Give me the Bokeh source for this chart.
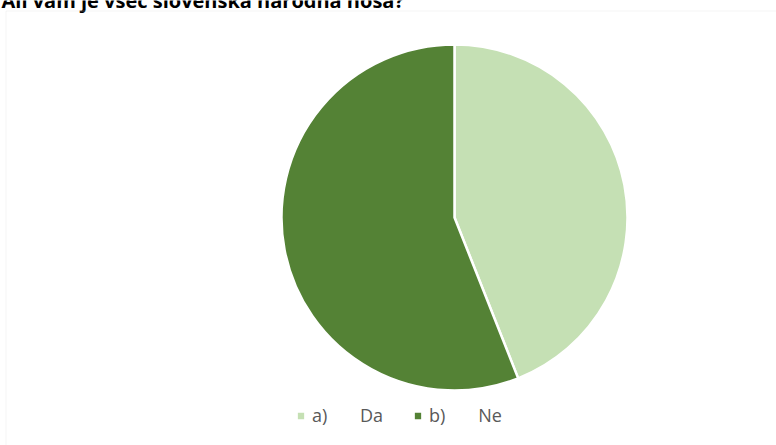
import numpy as np
from bokeh.plotting import figure
from bokeh.models import Range1d, Legend, LegendItem, BoxAnnotation, ColumnDataSource
from bokeh.core.properties import value
from bokeh.embed import file_html
from bokeh.resources import INLINE

title = "Ali vam je všeč slovenska narodna noša?"
categories = ["a)" + "\u00a0" * 7 + "Da", "b)" + "\u00a0" * 7 + "Ne"]
counts = [11, 14]
colors = ["#C5E0B4", "#548235"]

W, H = 776, 445
cx, cy, R = 454, 217, 173

vals = np.array(counts, dtype=float)
frac = vals / vals.sum()
cum = np.concatenate([[0], np.cumsum(frac)])
start = np.pi / 2 - 2 * np.pi * cum[:-1]
end = np.pi / 2 - 2 * np.pi * cum[1:]

src = ColumnDataSource(dict(cat=categories, start=start, end=end, color=colors))

p = figure(width=W, height=H, output_backend="svg", toolbar_location=None,
           x_range=Range1d(-cx, W - cx), y_range=Range1d(-(H - cy), cy),
           min_border=0, outline_line_color=None)
p.axis.visible = False
p.grid.visible = False
p.background_fill_color = "white"

# chart area border
p.add_layout(BoxAnnotation(left=5.5 - cx, top=cy - 10.5, right=W, bottom=-H,
                           fill_color=None, line_color="#D9D9D9", line_width=1))

r = p.wedge(x=0, y=0, radius=R, start_angle="start", end_angle="end", direction="clock",
            fill_color="color", line_color="white", line_width=2.5, source=src)

p.text(x=[1 - cx], y=[cy], text=[title], text_font=value("Open Sans"),
       text_font_style="bold", text_font_size="20px", text_color="black",
       text_baseline="alphabetic", text_align="left")

legend = Legend(items=[LegendItem(label=categories[i], renderers=[r], index=i) for i in range(len(categories))],
                orientation="horizontal", location=(295, 18),
                label_text_font="Open Sans", label_text_font_size="18px",
                label_text_color="#595959", glyph_width=11, glyph_height=11,
                label_height=22, label_standoff=6, spacing=29, padding=0, margin=0,
                border_line_color=None, background_fill_alpha=0)
p.add_layout(legend, "center")

open("out.html", "w").write(file_html(p, INLINE))
